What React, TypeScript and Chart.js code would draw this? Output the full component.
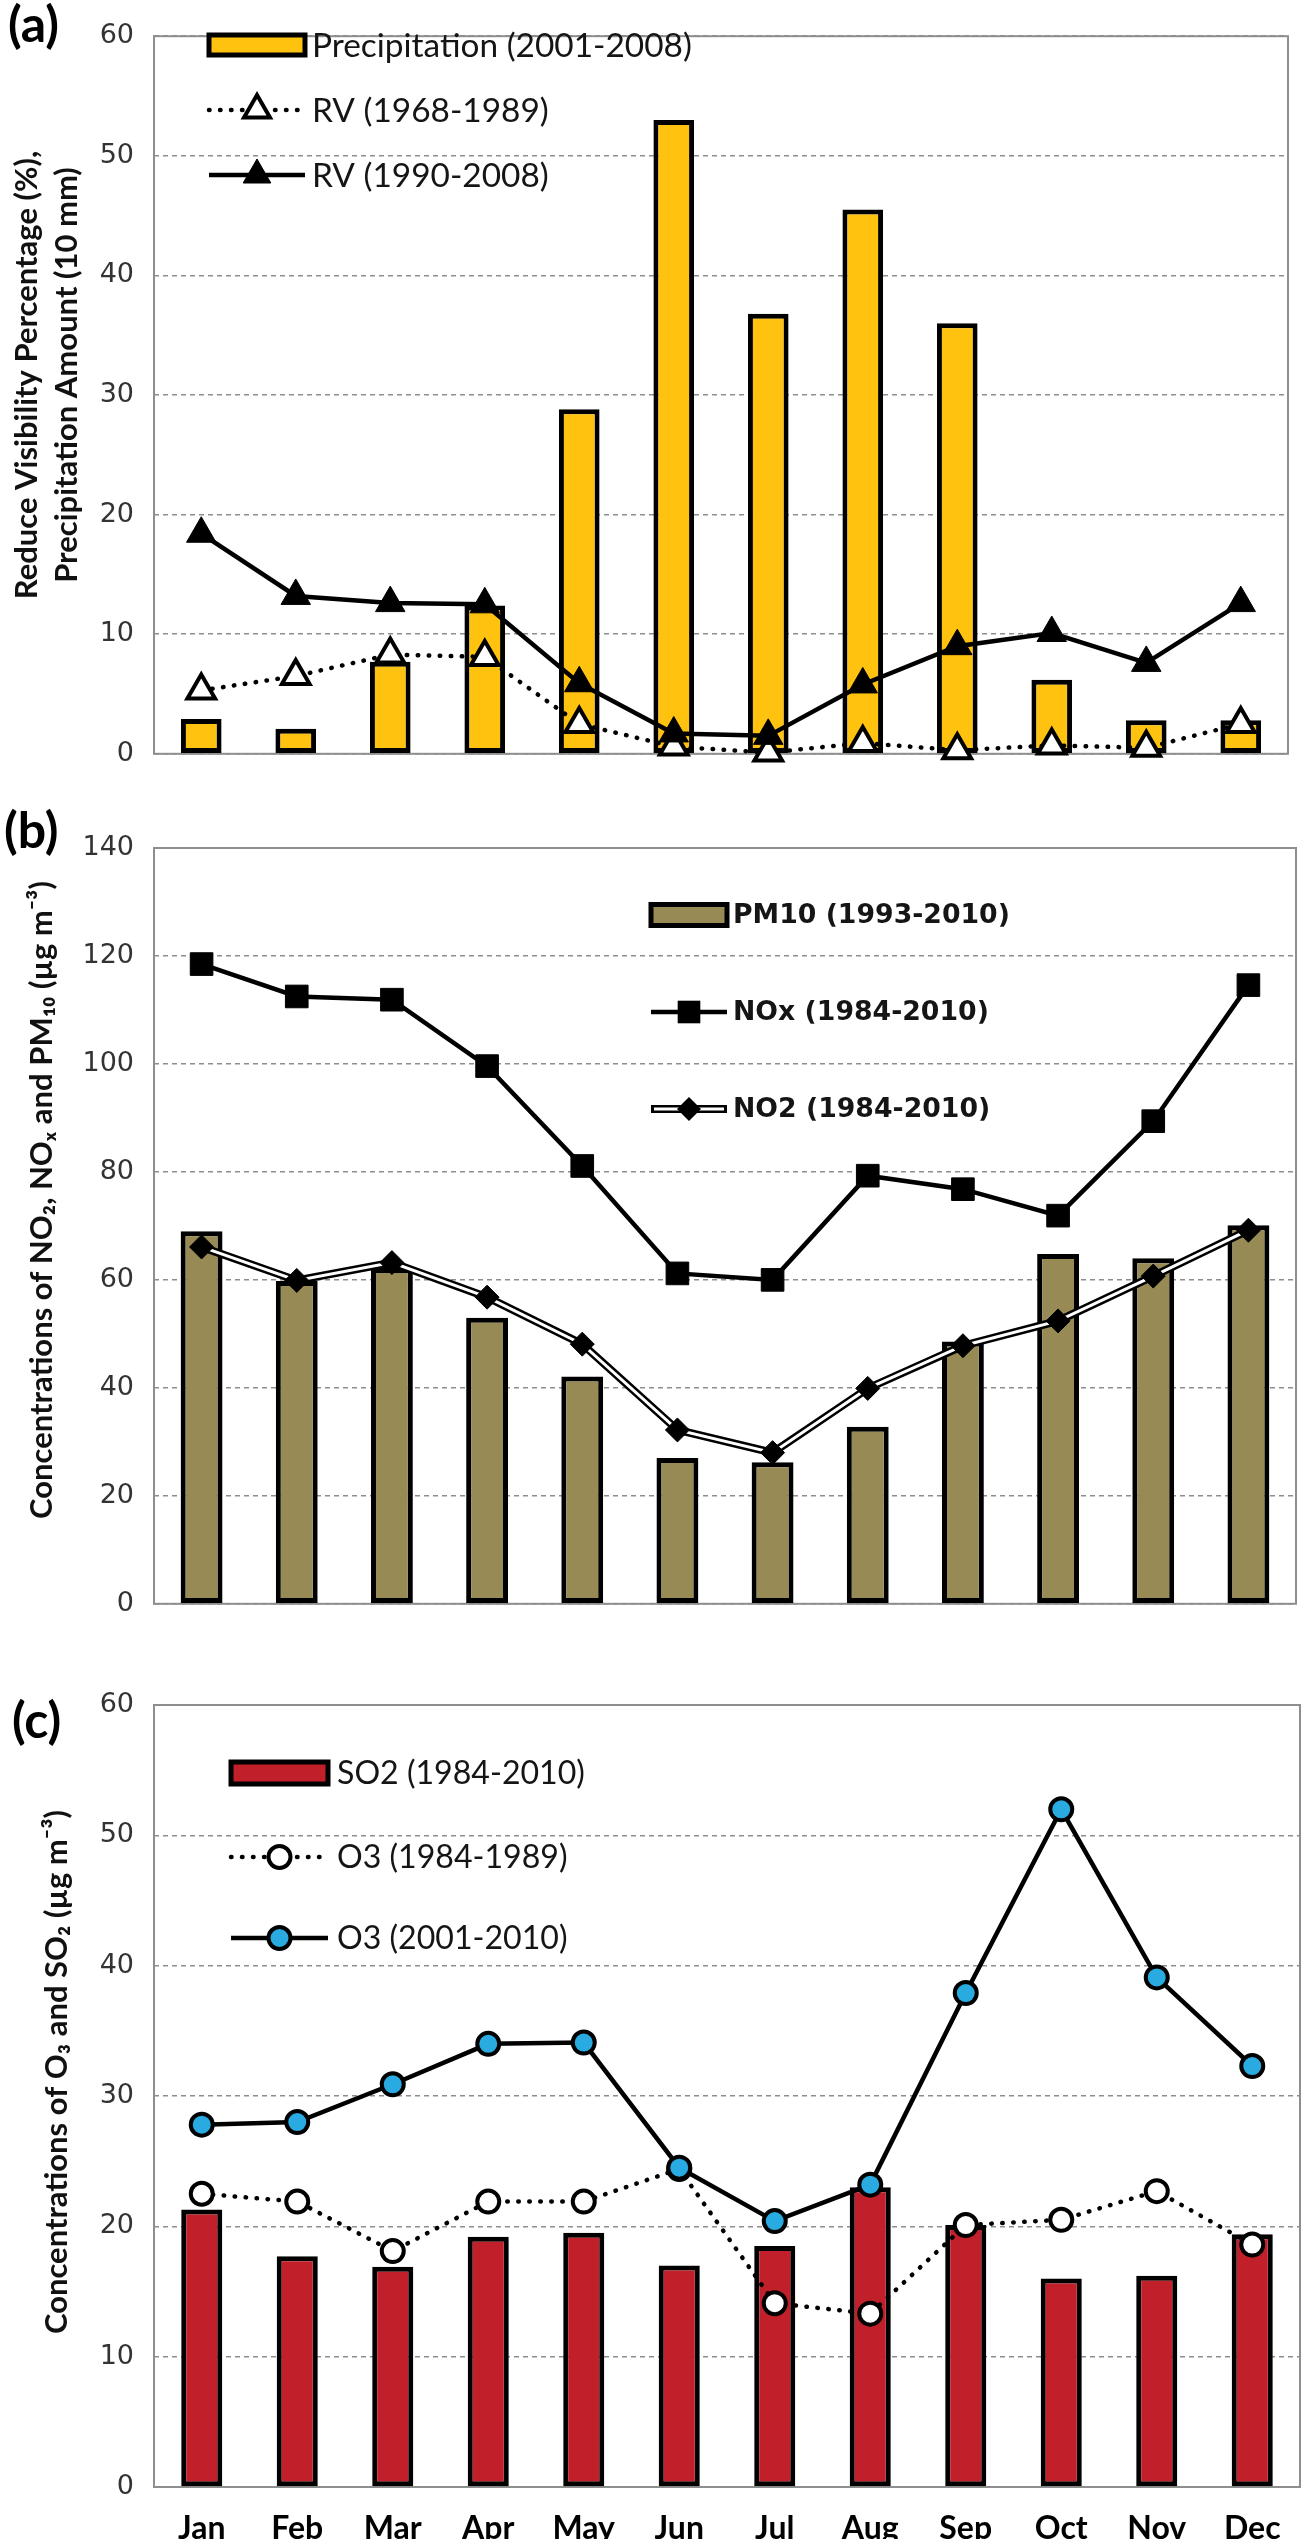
import React, { useEffect, useRef } from 'react';
import { Chart, ChartConfiguration, Plugin, registerables } from 'chart.js';

Chart.register(...registerables);

const months = ['Jan', 'Feb', 'Mar', 'Apr', 'May', 'Jun', 'Jul', 'Aug', 'Sep', 'Oct', 'Nov', 'Dec'];

// (a) reduced visibility and precipitation
const precipitation = [2.9, 2.1, 7.7, 12.4, 28.8, 53.0, 36.8, 45.5, 36.0, 6.2, 2.8, 2.8];
const rv1968 = [5.3, 6.5, 8.3, 8.1, 2.5, 0.6, 0.1, 0.9, 0.3, 0.7, 0.5, 2.5];
const rv1990 = [18.4, 13.2, 12.6, 12.5, 5.9, 1.7, 1.5, 5.8, 9.0, 10.1, 7.6, 12.6];

// (b) NOx, NO2, PM10
const pm10 = [69.0, 59.8, 62.2, 53.0, 42.1, 27.0, 26.2, 32.8, 48.6, 64.8, 64.0, 70.1];
const nox = [118.5, 112.5, 111.9, 99.6, 81.1, 61.2, 60.0, 79.3, 76.8, 71.9, 89.4, 114.6];
const no2 = [66.1, 59.9, 63.2, 56.8, 48.1, 32.2, 28.0, 39.9, 47.8, 52.4, 60.7, 69.2];

// (c) SO2 and O3
const so2 = [21.3, 17.7, 16.9, 19.2, 19.5, 17.0, 18.5, 23.0, 20.1, 16.0, 16.2, 19.4];
const o3Old = [22.5, 21.9, 18.1, 21.9, 21.9, 24.4, 14.1, 13.3, 20.1, 20.5, 22.7, 18.6];
const o3New = [27.8, 28.0, 30.9, 34.0, 34.1, 24.5, 20.4, 23.2, 37.9, 52.0, 39.1, 32.3];

const FONT = "Lato, 'Open Sans', 'DejaVu Sans', sans-serif";
const TICK_FONT = "'DejaVu Sans', Lato, sans-serif";
const GRID = '#8e8e8e';
const INK = '#151515';

type Marker = 'triangle' | 'rect' | 'rectRot' | 'circle';

interface LegendEntry {
  text: string;
  y: number;
  box?: string;
  dash?: number[];
  double?: boolean;
  marker?: Marker;
  radius?: number;
  fill?: string;
  markerBorder?: number;
}

interface Decor {
  label: string;
  labelX: number;
  labelY: number;
  title: string[];
  titleX: number[];
  titleY: number;
  titleSize: number;
  symX1: number;
  symX2: number;
  textX: number;
  legendFamily: string;
  legendWeight: string;
  legendFitWidth: number;
  boxH: number;
  entries: LegendEntry[];
}

function fitSize(ctx: CanvasRenderingContext2D, text: string, weight: string, family: string, width: number) {
  ctx.font = `${weight} 40px ${family}`;
  return (40 * width) / ctx.measureText(text).width;
}

function drawMarker(ctx: CanvasRenderingContext2D, m: Marker, x: number, y: number, r: number, fill: string, bw: number) {
  ctx.beginPath();
  if (m === 'circle') {
    ctx.arc(x, y, r, 0, Math.PI * 2);
  } else if (m === 'triangle') {
    ctx.moveTo(x, y - r);
    ctx.lineTo(x + r * 0.866, y + r * 0.5);
    ctx.lineTo(x - r * 0.866, y + r * 0.5);
    ctx.closePath();
  } else if (m === 'rect') {
    const s = r * Math.SQRT1_2;
    ctx.rect(x - s, y - s, 2 * s, 2 * s);
  } else {
    ctx.moveTo(x - r, y);
    ctx.lineTo(x, y - r);
    ctx.lineTo(x + r, y);
    ctx.lineTo(x, y + r);
    ctx.closePath();
  }
  ctx.fillStyle = fill;
  ctx.fill();
  if (bw > 0) {
    ctx.lineWidth = bw;
    ctx.strokeStyle = '#000';
    ctx.stroke();
  }
}

// frame, panel letter, axis title and the in-plot legend
function makeDecor(d: Decor): Plugin {
  return {
    id: 'decor',
    beforeDatasetsDraw(chart) {
      const { ctx, chartArea: a } = chart;
      ctx.save();
      ctx.strokeStyle = GRID;
      ctx.lineWidth = 2;
      ctx.strokeRect(a.left, a.top, a.right - a.left, a.bottom - a.top);
      ctx.restore();
    },
    afterDraw(chart) {
      const ctx = chart.ctx;
      ctx.save();
      ctx.fillStyle = '#000';
      ctx.font = `bold 50px ${FONT}`;
      ctx.textBaseline = 'middle';
      ctx.textAlign = 'left';
      ctx.fillText(d.label, d.labelX, d.labelY);

      // y axis title, rotated
      ctx.font = `bold ${d.titleSize}px ${FONT}`;
      ctx.fillStyle = '#111';
      ctx.textAlign = 'center';
      d.title.forEach((line, i) => {
        ctx.save();
        ctx.translate(d.titleX[i], d.titleY);
        ctx.rotate(-Math.PI / 2);
        ctx.fillText(line, 0, 0);
        ctx.restore();
      });

      // legend
      ctx.textAlign = 'left';
      const ls = fitSize(ctx, d.entries[0].text, d.legendWeight, d.legendFamily, d.legendFitWidth);
      const mid = (d.symX1 + d.symX2) / 2;
      d.entries.forEach((e) => {
        if (e.box) {
          ctx.fillStyle = e.box;
          ctx.fillRect(d.symX1, e.y - d.boxH / 2, d.symX2 - d.symX1, d.boxH);
          ctx.lineWidth = 5;
          ctx.strokeStyle = '#000';
          ctx.strokeRect(d.symX1, e.y - d.boxH / 2, d.symX2 - d.symX1, d.boxH);
        } else {
          ctx.lineCap = e.dash ? 'round' : 'butt';
          ctx.setLineDash(e.dash || []);
          ctx.strokeStyle = '#000';
          ctx.lineWidth = e.double ? 8 : 4.5;
          ctx.beginPath();
          ctx.moveTo(d.symX1, e.y);
          ctx.lineTo(d.symX2, e.y);
          ctx.stroke();
          if (e.double) {
            ctx.strokeStyle = '#fff';
            ctx.lineWidth = 3;
            ctx.beginPath();
            ctx.moveTo(d.symX1 + 3, e.y);
            ctx.lineTo(d.symX2 - 3, e.y);
            ctx.stroke();
          }
          ctx.setLineDash([]);
          if (e.marker) drawMarker(ctx, e.marker, mid, e.y, e.radius || 12, e.fill || '#000', e.markerBorder || 0);
        }
        ctx.fillStyle = INK;
        ctx.font = `${d.legendWeight} ${ls}px ${d.legendFamily}`;
        ctx.textBaseline = 'middle';
        ctx.fillText(e.text, d.textX, e.y + 1);
      });
      ctx.restore();
    },
  };
}

interface AxisSpec {
  max: number;
  step: number;
  showMonths: boolean;
  xHeight: number;
}

function scales(s: AxisSpec): any {
  return {
    x: {
      grid: { display: false },
      border: { display: false },
      ticks: {
        display: s.showMonths,
        font: { family: FONT, size: 32, weight: 'bold' },
        color: '#000',
        padding: 14,
      },
      afterFit: (sc: any) => {
        sc.height = s.xHeight;
      },
    },
    y: {
      min: 0,
      max: s.max,
      ticks: {
        stepSize: s.step,
        font: { family: TICK_FONT, size: 27 },
        color: '#333',
        padding: 20,
      },
      grid: { color: GRID, lineWidth: 1.5, drawTicks: false },
      border: { display: false, dash: [5, 4] },
      afterFit: (sc: any) => {
        sc.width = 154;
      },
    },
  };
}

const common = (top: number, right: number): any => ({
  responsive: false,
  animation: false,
  events: [],
  layout: { padding: { top, right, left: 0, bottom: 0 } },
  plugins: { legend: { display: false }, tooltip: { enabled: false } },
});

const buildA = (): ChartConfiguration => ({
  type: 'bar',
  data: {
    labels: months,
    datasets: [
      {
        type: 'line',
        label: 'RV (1968-1989)',
        data: rv1968,
        borderColor: '#000',
        borderWidth: 4.5,
        borderDash: [0.5, 10.5],
        borderCapStyle: 'round',
        pointStyle: 'triangle',
        pointRadius: 16,
        pointBorderWidth: 4,
        pointBackgroundColor: '#fff',
        pointBorderColor: '#000',
        order: 2,
        clip: false,
      } as any,
      {
        type: 'line',
        label: 'RV (1990-2008)',
        data: rv1990,
        borderColor: '#000',
        borderWidth: 4.5,
        pointStyle: 'triangle',
        pointRadius: 17,
        pointBorderWidth: 1,
        pointBackgroundColor: '#000',
        pointBorderColor: '#000',
        order: 1,
        clip: false,
      } as any,
      {
        type: 'bar',
        label: 'Precipitation (2001-2008)',
        data: precipitation,
        backgroundColor: '#FFC20E',
        borderColor: '#000',
        borderWidth: 5,
        borderSkipped: false,
        barPercentage: 0.43,
        categoryPercentage: 1,
        order: 3,
      },
    ],
  },
  options: {
    ...common(12, 27),
    scales: scales({ max: 60, step: 10, showMonths: false, xHeight: 20 }),
  },
  plugins: [
    makeDecor({
      label: '(a)',
      labelX: 8,
      labelY: 26,
      title: ['Reduce Visibility Percentage (%),', 'Precipitation Amount (10 mm)'],
      titleX: [27, 67],
      titleY: 375,
      titleSize: 31,
      symX1: 209,
      symX2: 305,
      textX: 312,
      legendFamily: FONT,
      legendWeight: 'normal',
      legendFitWidth: 380,
      boxH: 20,
      entries: [
        { text: 'Precipitation (2001-2008)', y: 45, box: '#FFC20E' },
        { text: 'RV (1968-1989)', y: 110, dash: [0.5, 10.5], marker: 'triangle', radius: 15, fill: '#fff', markerBorder: 4 },
        { text: 'RV (1990-2008)', y: 175, marker: 'triangle', radius: 16, fill: '#000', markerBorder: 1 },
      ],
    }),
  ],
});

const buildB = (): ChartConfiguration => ({
  type: 'bar',
  data: {
    labels: months,
    datasets: [
      {
        type: 'line',
        label: 'NOx (1984-2010)',
        data: nox,
        borderColor: '#000',
        borderWidth: 4.5,
        pointStyle: 'rect',
        pointRadius: 16,
        pointBorderWidth: 1,
        pointBackgroundColor: '#000',
        pointBorderColor: '#000',
        order: 1,
        clip: false,
      } as any,
      {
        type: 'line',
        label: 'NO2 outline',
        data: no2,
        borderColor: '#000',
        borderWidth: 8,
        pointRadius: 0,
        order: 3,
        clip: false,
      } as any,
      {
        type: 'line',
        label: 'NO2 (1984-2010)',
        data: no2,
        borderColor: '#fff',
        borderWidth: 3,
        pointStyle: 'rectRot',
        pointRadius: 12,
        pointBorderWidth: 1,
        pointBackgroundColor: '#000',
        pointBorderColor: '#000',
        order: 2,
        clip: false,
      } as any,
      {
        type: 'bar',
        label: 'PM10 (1993-2010)',
        data: pm10,
        backgroundColor: '#978A55',
        borderColor: '#000',
        borderWidth: 5,
        borderSkipped: false,
        barPercentage: 0.44,
        categoryPercentage: 1,
        order: 4,
      },
    ],
  },
  options: {
    ...common(48, 19),
    scales: scales({ max: 140, step: 20, showMonths: false, xHeight: 22 }),
  },
  plugins: [
    makeDecor({
      label: '(b)',
      labelX: 4,
      labelY: 32,
      title: ['Concentrations of NO₂, NOₓ and PM₁₀ (µg m⁻³)'],
      titleX: [42],
      titleY: 400,
      titleSize: 31,
      symX1: 651,
      symX2: 727,
      textX: 733,
      legendFamily: "'DejaVu Sans', Lato, sans-serif",
      legendWeight: 'bold',
      legendFitWidth: 277,
      boxH: 21,
      entries: [
        { text: 'PM10 (1993-2010)', y: 115, box: '#978A55' },
        { text: 'NOx (1984-2010)', y: 212, marker: 'rect', radius: 16, fill: '#000' },
        { text: 'NO2 (1984-2010)', y: 309, double: true, marker: 'rectRot', radius: 12, fill: '#000' },
      ],
    }),
  ],
});

const buildC = (): ChartConfiguration => ({
  type: 'bar',
  data: {
    labels: months,
    datasets: [
      {
        type: 'line',
        label: 'O3 (1984-1989)',
        data: o3Old,
        borderColor: '#000',
        borderWidth: 4.5,
        borderDash: [0.5, 10.5],
        borderCapStyle: 'round',
        pointStyle: 'circle',
        pointRadius: 11,
        pointBorderWidth: 4,
        pointBackgroundColor: '#fff',
        pointBorderColor: '#000',
        order: 2,
        clip: false,
      } as any,
      {
        type: 'line',
        label: 'O3 (2001-2010)',
        data: o3New,
        borderColor: '#000',
        borderWidth: 4.5,
        pointStyle: 'circle',
        pointRadius: 11,
        pointBorderWidth: 4,
        pointBackgroundColor: '#29AAE1',
        pointBorderColor: '#000',
        order: 1,
        clip: false,
      } as any,
      {
        type: 'bar',
        label: 'SO2 (1984-2010)',
        data: so2,
        backgroundColor: '#C1202B',
        borderColor: '#000',
        borderWidth: 5,
        borderSkipped: false,
        barPercentage: 0.43,
        categoryPercentage: 1,
        order: 3,
      },
    ],
  },
  options: {
    ...common(55, 2),
    scales: scales({ max: 60, step: 10, showMonths: true, xHeight: 52 }),
  },
  plugins: [
    makeDecor({
      label: '(c)',
      labelX: 12,
      labelY: 72,
      title: ['Concentrations of O₃ and SO₂ (µg m⁻³)'],
      titleX: [57],
      titleY: 422,
      titleSize: 31,
      symX1: 231,
      symX2: 328,
      textX: 337,
      legendFamily: FONT,
      legendWeight: 'normal',
      legendFitWidth: 248,
      boxH: 22,
      entries: [
        { text: 'SO2 (1984-2010)', y: 123, box: '#C1202B' },
        { text: 'O3 (1984-1989)', y: 207, dash: [0.5, 10.5], marker: 'circle', radius: 11, fill: '#fff', markerBorder: 4 },
        { text: 'O3 (2001-2010)', y: 288, marker: 'circle', radius: 11, fill: '#29AAE1', markerBorder: 4 },
      ],
    }),
  ],
});

interface PanelProps {
  top: number;
  height: number;
  build: () => ChartConfiguration;
}

const Panel: React.FC<PanelProps> = ({ top, height, build }) => {
  const ref = useRef<HTMLCanvasElement | null>(null);

  useEffect(() => {
    if (!ref.current) return;
    const chart = new Chart(ref.current, build());
    return () => chart.destroy();
  }, [build]);

  return (
    <canvas
      ref={ref}
      width={1315}
      height={height}
      style={{ position: 'absolute', left: 0, top, width: 1315, height }}
    />
  );
};

const App: React.FC = () => (
  <div style={{ position: 'absolute', left: 0, top: 0, width: 1315, height: 2539, background: '#fff' }}>
    <Panel top={0} height={790} build={buildA} />
    <Panel top={800} height={840} build={buildB} />
    <Panel top={1650} height={889} build={buildC} />
  </div>
);

export default App;
